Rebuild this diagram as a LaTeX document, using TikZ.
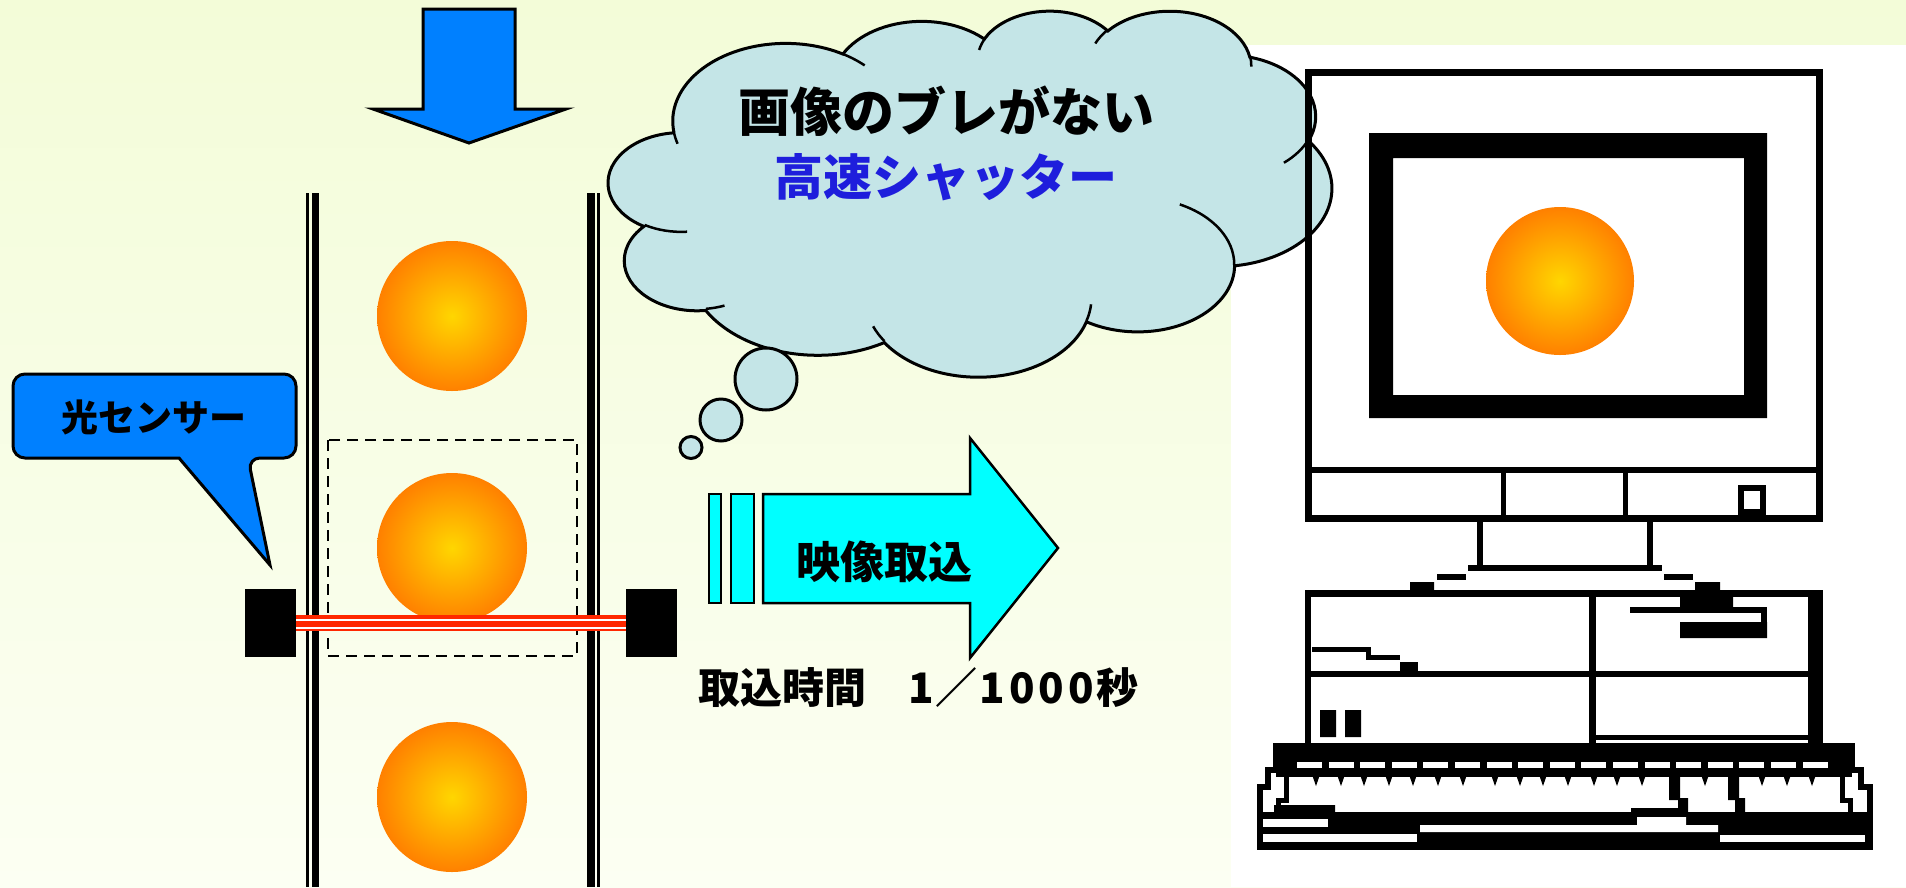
\documentclass[tikz,border=0pt]{standalone}
\usepackage{fontspec}
\newfontfamily\jp{Noto Sans CJK JP}
\usetikzlibrary{calc}
\definecolor{bgtop}{RGB}{243,252,216}
\definecolor{bgbot}{RGB}{252,255,243}
\definecolor{dropblue}{RGB}{0,128,255}
\definecolor{aqua}{RGB}{0,255,255}
\definecolor{cloudblue}{RGB}{196,229,231}
\definecolor{shutterblue}{RGB}{30,30,220}
\definecolor{beamred}{RGB}{255,40,0}
\definecolor{ballin}{RGB}{255,214,0}
\definecolor{ballout}{RGB}{255,128,0}
\pgfdeclareradialshading{ballshade}{\pgfpoint{0bp}{0bp}}%
  {color(0bp)=(ballin); color(25bp)=(ballout); color(50bp)=(ballout)}

\begin{document}
\begin{tikzpicture}[x=1pt, y=-1pt,
    outl/.style={draw=black, line width=3pt, line join=miter},
    puff/.style={outl, fill=cloudblue},
    ball/.style={shading=ballshade},
    lbl/.style={inner sep=0pt, font=\jp\bfseries\fontsize{#1pt}{#1pt}\selectfont},
    px/.style={line width=#1pt}]
  \shade[top color=bgtop, bottom color=bgbot] (0,0) rectangle (1906,887);
  \useasboundingbox (0,0) rectangle (1906,887);
  \fill[white] (1231,45) rectangle (1906,887);

  % chute
  \draw[px=3] (307.5,193) -- (307.5,887);
  \draw[px=7] (315,193) -- (315,887);
  \draw[px=8] (591,193) -- (591,887);
  \draw[px=3] (598,193) -- (598,887);
  \foreach \y in {316,548,797}
    \shade[ball] (452,\y) circle[radius=75];
  \draw[px=2.5, dash pattern=on 11pt off 7pt] (328,440) rectangle (577,656);
  \fill (245,589) rectangle (296,657);
  \fill (626,589) rectangle (677,657);
  \fill[beamred] (296,615) rectangle (626,631);
  \draw[white, px=2.2] (296,619.7) -- (626,619.7) (296,627.7) -- (626,627.7);

  \draw[outl, fill=dropblue] (423,9) -- (515,9) -- (515,109) -- (566,109)
    -- (469,143) -- (373,109) -- (423,109) -- cycle;

  \draw[outl, fill=dropblue] (13,416) [rounded corners=12pt] -- (13,374)
    -- (296,374) -- (296,458) -- (248,458) [sharp corners] -- (270,565)
    -- (179,458) [rounded corners=12pt] -- (13,458) -- cycle;
  \node[lbl=37] (sensor) at (154,417) {光センサー};

  % capture arrow
  \draw[outl, px=2.5, fill=aqua] (709,494) rectangle (721,603);
  \draw[outl, px=2.5, fill=aqua] (731,494) rectangle (754,603);
  \draw[outl, px=2.5, fill=aqua] (763,494) -- (970,494) -- (970,438)
    -- (1058,548) -- (970,658) -- (970,603) -- (763,603) -- cycle;
  \node[lbl=44] (capture) at (884,562) {映像取込};
  \node[lbl=42, anchor=west] (time) at (698,688)
    {取込時間　1\kern2pt／\kern2pt1\kern4pt0\kern4pt0\kern4pt0\kern2pt秒};

  % thought cloud
  \begin{scope}[shift={(608.5,10)}, x=1.674pt, y=-0.847pt]
    \path[puff] (39.00,143.70)
      arc[start angle=172.25, delta angle=128.09, x radius=67.53, y radius=91.90]
      arc[start angle=-152.02, delta angle=106.55, x radius=53.33, y radius=72.67]
      arc[start angle=-153.48, delta angle=116.15, x radius=43.65, y radius=59.45]
      arc[start angle=-139.72, delta angle=129.50, x radius=48.57, y radius=65.95]
      arc[start angle=-74.78, delta angle=97.99, x radius=53.33, y radius=72.73]
      arc[start angle=-37.53, delta angle=119.39, x radius=67.75, y radius=92.20]
      arc[start angle=0.46, delta angle=121.53, x radius=57.85, y radius=78.67]
      arc[start angle=16.84, delta angle=129.38, x radius=67.52, y radius=92.15]
      arc[start angle=59.01, delta angle=91.14, x radius=77.20, y radius=105.43]
      arc[start angle=83.31, delta angle=139.80, x radius=43.60, y radius=59.18]
      arc[start angle=120.39, delta angle=143.72, x radius=43.45, y radius=59.45]
      -- cycle;
    \draw[px=2.5]
      (46.93,261.77) arc[start angle=85.55, delta angle=34.84, x radius=43.45, y radius=59.45]
      (69.28,348.99) arc[start angle=68.25, delta angle=15.06, x radius=43.60, y radius=59.18]
      (164.78,390.90) arc[start angle=146.21, delta angle=12.26, x radius=67.52, y radius=92.15]
      (288.27,347.51) arc[start angle=4.74, delta angle=12.10, x radius=67.52, y radius=92.15]
      (341.29,229.54) arc[start angle=-64.01, delta angle=64.47, x radius=57.85, y radius=78.67]
      (417.98,153.54) arc[start angle=23.21, delta angle=26.45, x radius=53.33, y radius=72.73]
      (383.24,54.26) arc[start angle=-10.22, delta angle=11.04, x radius=48.57, y radius=65.95]
      (290.78,39.52) arc[start angle=-156.29, delta angle=16.57, x radius=48.57, y radius=65.95]
      (221.41,47.20) arc[start angle=-167.72, delta angle=14.24, x radius=43.65, y radius=59.45]
      (140.00,51.92) arc[start angle=-59.66, delta angle=13.92, x radius=67.53, y radius=91.90]
      (41.27,157.89) arc[start angle=163.19, delta angle=9.06, x radius=67.53, y radius=91.90];
  \end{scope}
  \draw[puff] (766,379) circle[radius=31];
  \draw[puff] (721,420) circle[radius=21];
  \draw[puff] (691,447.5) circle[radius=11];
  \node[lbl=52] (noblur) at (946,111) {画像のブレがない};
  \node[lbl=49, text=shutterblue] (shutter) at (946,177) {高速シャッター};

  % monitor
  \draw[px=7] (1308.5,72.5) rectangle (1819.5,518.5);
  \fill[even odd rule] (1369,133) rectangle (1767,418) (1393,158) rectangle (1744,395);
  \shade[ball] (1560,281) circle[radius=74];
  \draw[px=6] (1308,470) -- (1820,470);
  \draw[px=5] (1503.5,470) -- (1503.5,519) (1625.5,470) -- (1625.5,519);
  \draw[px=6] (1741,488) rectangle (1763,512);
  \draw[px=6] (1480,519) -- (1480,568) (1650,519) -- (1650,568) (1468,568) -- (1662,568);
  \draw[px=6] (1437,576.5) -- (1466,576.5) (1664,576.5) -- (1693,576.5);
  \fill (1410,582) rectangle (1434,593) (1695,582) rectangle (1720,593);

  % system unit
  \draw[px=7] (1305,593.5) -- (1823,593.5);
  \draw[px=6] (1308,590) -- (1308,745);
  \fill (1808,590) rectangle (1823,745);
  \draw[px=7] (1592,593) -- (1592,745);
  \draw[px=6] (1308,673.5) -- (1815,673.5);
  \draw[px=5] (1592,737.5) -- (1815,737.5);
  \draw[px=5] (1312,649.5) -- (1368,649.5) -- (1368,657.5) -- (1400,657.5);
  \fill (1400,662) rectangle (1418,675);
  \draw[px=6] (1630,610) -- (1764,610) -- (1764,638);
  \fill (1680,593) rectangle (1733,610) (1680,622) rectangle (1767,638);
  \fill (1320,710) rectangle (1336,737) (1345,710) rectangle (1361,737);

  % keyboard
  \draw[px=6] (1259.5,847) -- (1259.5,787) -- (1267.5,787) -- (1267.5,770)
    -- (1276,770) -- (1276,746) -- (1852,746) -- (1852,770) -- (1861,770)
    -- (1861,787) -- (1870,787) -- (1870,847) -- cycle;
  \fill (1276,746) rectangle (1852,777);
  \foreach \k in {0,...,16}
    \fill[white] ({1297+\k*31.6},762) rectangle ++(25,6);
  \foreach \t in {1316,1341,1364,1389,1413,1438,1463,1495,1520,1543,1568,1594,1617,1642,1705,1762,1787,1812}
    \fill (\t-3.5,776) -- (\t+3.5,776) -- (\t,786) -- cycle;
  \draw[px=5] (1286,760) -- (1286,800) -- (1278,800) -- (1278,815);
  \draw[px=5] (1842,760) -- (1842,800) -- (1850,800) -- (1850,815);
  \fill (1669,776) rectangle (1680,800) (1678,798) rectangle (1688,812);
  \fill (1728,776) rectangle (1739,800) (1735,798) rectangle (1745,815);
  \fill (1262,812) rectangle (1868,849);
  \fill (1274,805) rectangle (1335,812) (1631,808) rectangle (1686,812);
  \fill[white] (1263,819) rectangle (1328,827);
  \fill[white] (1420,825) -- (1637,825) -- (1637,817) -- (1686,817) -- (1686,825)
    -- (1718,825) -- (1718,832) -- (1420,832) -- cycle;
  \fill[white] (1263,834) rectangle (1417,842);
  \fill[white] (1720,835) rectangle (1865,842);
\end{tikzpicture}
\end{document}
